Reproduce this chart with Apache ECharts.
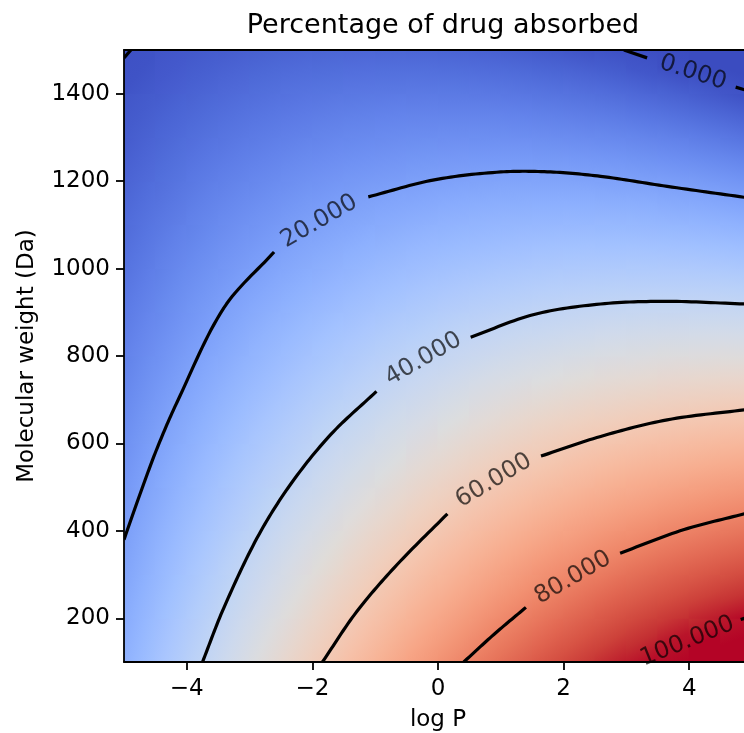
<!DOCTYPE html>
<html>
<head>
<meta charset="utf-8">
<title>Percentage of drug absorbed</title>
<script src="https://cdn.jsdelivr.net/npm/echarts@6/dist/echarts.min.js"></script>
<style>
  html, body { margin: 0; padding: 0; background: #fff; }
  #chart { width: 744px; height: 733px; }
</style>
</head>
<body>
<div id="chart"></div>
<script>
// grid nodes
const logP = [-5, -4.5, -4, -3.5, -3, -2.5, -2, -1.5, -1, -0.5, 0, 0.5, 1, 1.5, 2, 2.5, 3, 3.5, 4, 4.5, 5]
const mw = [100, 200, 300, 400, 500, 600, 700, 800, 900, 1000, 1100, 1200, 1300, 1400, 1500]

// % absorbed, one row per molecular weight
const mw100 = [25.4, 31.4, 37.2, 42.8, 48.2, 53.4, 58.5, 63.3, 67.9, 72.4, 76.6, 80.7, 84.6, 88.2, 91.7, 95.0, 98.1, 101.0, 103.7, 106.3, 108.6]
const mw200 = [23.6, 29.2, 34.7, 40.0, 45.1, 49.9, 54.6, 59.1, 63.5, 67.6, 71.5, 75.2, 78.8, 82.1, 85.3, 88.3, 91.1, 93.6, 96.0, 98.2, 100.2]
const mw300 = [21.7, 27.0, 32.2, 37.1, 41.9, 46.5, 50.8, 55.0, 59.0, 62.8, 66.4, 69.8, 73.0, 76.1, 78.9, 81.6, 84.0, 86.3, 88.3, 90.2, 91.9]
const mw400 = [19.9, 24.9, 29.7, 34.3, 38.7, 43.0, 47.0, 50.9, 54.6, 58.0, 61.3, 64.4, 67.3, 70.0, 72.5, 74.8, 77.0, 78.9, 80.6, 82.2, 83.5]
const mw500 = [18.0, 22.7, 27.2, 31.5, 35.6, 39.5, 43.2, 46.8, 50.1, 53.3, 56.2, 59.0, 61.5, 63.9, 66.1, 68.1, 69.9, 71.5, 72.9, 74.2, 75.2]
const mw600 = [16.2, 20.5, 24.7, 28.7, 32.5, 36.0, 39.4, 42.7, 45.7, 48.5, 51.1, 53.6, 55.8, 57.9, 59.7, 61.4, 62.9, 64.2, 65.3, 66.2, 66.9]
const mw700 = [14.3, 18.4, 22.2, 25.9, 29.3, 32.6, 35.7, 38.5, 41.2, 43.7, 46.0, 48.2, 50.1, 51.8, 53.3, 54.7, 55.8, 56.8, 57.6, 58.2, 58.5]
const mw800 = [12.5, 16.2, 19.7, 23.0, 26.2, 29.1, 31.9, 34.4, 36.8, 39.0, 41.0, 42.8, 44.4, 45.8, 47.0, 48.0, 48.8, 49.5, 49.9, 50.2, 50.2]
const mw900 = [10.7, 14.0, 17.2, 20.2, 23.1, 25.7, 28.1, 30.3, 32.4, 34.2, 35.9, 37.4, 38.6, 39.7, 40.6, 41.3, 41.8, 42.1, 42.2, 42.2, 41.9]
const mw1000 = [8.8, 11.9, 14.8, 17.4, 19.9, 22.2, 24.3, 26.2, 28.0, 29.5, 30.8, 32.0, 32.9, 33.7, 34.2, 34.6, 34.8, 34.8, 34.6, 34.2, 33.6]
const mw1100 = [7.0, 9.8, 12.3, 14.7, 16.8, 18.8, 20.6, 22.1, 23.5, 24.7, 25.8, 26.6, 27.2, 27.6, 27.9, 27.9, 27.8, 27.4, 26.9, 26.2, 25.3]
const mw1200 = [5.2, 7.6, 9.8, 11.9, 13.7, 15.3, 16.8, 18.1, 19.1, 20.0, 20.7, 21.2, 21.5, 21.6, 21.5, 21.2, 20.8, 20.1, 19.3, 18.2, 17.0]
const mw1300 = [3.4, 5.5, 7.4, 9.1, 10.6, 11.9, 13.0, 14.0, 14.7, 15.3, 15.6, 15.8, 15.8, 15.6, 15.2, 14.6, 13.8, 12.8, 11.6, 10.2, 8.7]
const mw1400 = [1.6, 3.4, 4.9, 6.3, 7.5, 8.5, 9.3, 9.9, 10.3, 10.6, 10.6, 10.4, 10.1, 9.5, 8.8, 7.9, 6.8, 5.5, 4.0, 2.3, 0.4]
const mw1500 = [-0.2, 1.2, 2.5, 3.5, 4.4, 5.1, 5.5, 5.8, 5.9, 5.8, 5.5, 5.1, 4.4, 3.5, 2.5, 1.2, -0.2, -1.9, -3.7, -5.7, -7.9]
const absorbed = [mw100, mw200, mw300, mw400, mw500, mw600, mw700, mw800, mw900, mw1000, mw1100, mw1200, mw1300, mw1400, mw1500]

// contour lines [logP, MW], split where the inline label sits
const levels = [0, 20, 40, 60, 80, 100]
const contour0 = [[[-5, 1482], [-4.89, 1500]], [[2.96, 1500], [3.33, 1482]], [[4.74, 1415], [4.88, 1409]]]
const contour20 = [
  [[-5, 380], [-4.73, 490], [-4.47, 590], [-4.15, 696], [-3.41, 910], [-2.61, 1038]],
  [[-1.11, 1164], [-0.06, 1203], [1.0, 1221], [1.79, 1221], [2.59, 1211], [3.65, 1188], [4.88, 1163]]
]
const contour40 = [
  [[-3.75, 100], [-3.41, 224], [-2.88, 384], [-2.35, 506], [-1.71, 620], [-0.98, 719]],
  [[0.52, 843], [1.53, 895], [2.59, 919], [3.65, 925], [4.88, 919]]
]
const contour60 = [
  [[-1.84, 100], [-1.29, 216], [-0.65, 323], [0.15, 439]],
  [[1.64, 571], [2.59, 616], [3.65, 654], [4.88, 677]]
]
const contour80 = [
  [[0.41, 100], [0.89, 163], [1.40, 225]],
  [[2.90, 349], [3.92, 403], [4.88, 439]]
]
const contour100 = [[[4.82, 197], [4.88, 200]]]
const contours = [contour0, contour20, contour40, contour60, contour80, contour100]

// where each level's label sits, and its tilt
const labelX = [4.06, -1.89, -0.23, 0.89, 2.15, 3.97]
const labelY = [1448, 1108, 793, 515, 293, 147]
const labelAngle = [-18, 30, 30, 31, 30, 22]

const xTicks = [-4, -2, 0, 2, 4]
const yTicks = [200, 400, 600, 800, 1000, 1200, 1400]

// colour scale: a percentage, so 0..100
const vmin = 0
const vmax = 100

// matplotlib coolwarm
const coolwarm = [
  [59, 76, 192], [68, 90, 204], [77, 104, 215], [87, 117, 225], [98, 130, 234], [108, 142, 241],
  [119, 154, 247], [130, 165, 251], [141, 176, 254], [152, 185, 255], [163, 194, 255], [174, 201, 253],
  [184, 208, 249], [194, 213, 244], [204, 217, 238], [213, 219, 230], [221, 221, 221], [229, 216, 209],
  [236, 211, 197], [241, 204, 185], [245, 196, 173], [247, 187, 160], [247, 177, 148], [247, 166, 135],
  [244, 154, 123], [241, 141, 111], [236, 127, 99], [229, 112, 88], [222, 96, 77], [213, 80, 66],
  [203, 62, 56], [192, 40, 47], [180, 4, 38]
]

function cmap(v) {
  let t = (v - vmin) / (vmax - vmin)
  t = Math.max(0, Math.min(1, t)) * (coolwarm.length - 1)
  const k = Math.min(Math.floor(t), coolwarm.length - 2)
  const f = t - k
  const a = coolwarm[k], b = coolwarm[k + 1]
  return 'rgb(' + [0, 1, 2].map(c => Math.round(a[c] + (b[c] - a[c]) * f)).join(',') + ')'
}

const cells = []
for (let j = 0; j < mw.length - 1; j++) {
  for (let i = 0; i < logP.length - 1; i++) cells.push([i, j])
}

// each cell shaded along its own gradient so the field looks continuous
function renderCell(params, api) {
  const i = api.value(0)
  const j = api.value(1)
  const p0 = api.coord([logP[i], mw[j]])
  const p1 = api.coord([logP[i + 1], mw[j + 1]])
  const v00 = absorbed[j][i], v10 = absorbed[j][i + 1]
  const v01 = absorbed[j + 1][i], v11 = absorbed[j + 1][i + 1]
  const w = p1[0] - p0[0]
  const h = p1[1] - p0[1]
  const gx = ((v10 - v00) + (v11 - v01)) / 2 / w
  const gy = ((v01 - v00) + (v11 - v10)) / 2 / h
  const cx = (p0[0] + p1[0]) / 2
  const cy = (p0[1] + p1[1]) / 2
  const vc = (v00 + v10 + v01 + v11) / 4
  const g2 = gx * gx + gy * gy
  let fill
  if (g2 < 1e-9) {
    fill = cmap(vc)
  } else {
    const R = 10
    const ux = gx / g2 * R, uy = gy / g2 * R
    const stops = [0, 0.25, 0.5, 0.75, 1].map(t => ({ offset: t, color: cmap(vc - R + 2 * R * t) }))
    fill = new echarts.graphic.LinearGradient(cx - ux, cy - uy, cx + ux, cy + uy, stops, true)
  }
  return {
    type: 'rect',
    shape: {
      x: Math.min(p0[0], p1[0]) - 0.5,
      y: Math.min(p0[1], p1[1]) - 0.5,
      width: Math.abs(w) + 1,
      height: Math.abs(h) + 1
    },
    style: { fill: fill }
  }
}

// contour segments: spline through the read points, in pixel space
const segments = []
contours.forEach(segs => segs.forEach(seg => segments.push(seg)))

function spline(pts) {
  if (pts.length < 3) return pts
  const dist = (a, b) => Math.hypot(b[0] - a[0], b[1] - a[1])
  const out = [pts[0]]
  for (let k = 0; k < pts.length - 1; k++) {
    const p1 = pts[k], p2 = pts[k + 1]
    const p0 = pts[k - 1] || [2 * p1[0] - p2[0], 2 * p1[1] - p2[1]]
    const p3 = pts[k + 2] || [2 * p2[0] - p1[0], 2 * p2[1] - p1[1]]
    const d1 = dist(p0, p1), d2 = dist(p1, p2), d3 = dist(p2, p3)
    const s1 = d2 / (d1 + d2), s2 = d2 / (d2 + d3)
    const c1 = [p1[0] + (p2[0] - p0[0]) * s1 / 3, p1[1] + (p2[1] - p0[1]) * s1 / 3]
    const c2 = [p2[0] - (p3[0] - p1[0]) * s2 / 3, p2[1] - (p3[1] - p1[1]) * s2 / 3]
    for (let n = 1; n <= 16; n++) {
      const t = n / 16, u = 1 - t
      out.push([
        u * u * u * p1[0] + 3 * u * u * t * c1[0] + 3 * u * t * t * c2[0] + t * t * t * p2[0],
        u * u * u * p1[1] + 3 * u * u * t * c1[1] + 3 * u * t * t * c2[1] + t * t * t * p2[1]
      ])
    }
  }
  return out
}

function renderContour(params, api) {
  const seg = segments[params.dataIndex]
  const pts = seg.map(p => api.coord(p))
  return {
    type: 'polyline',
    shape: { points: spline(pts) },
    style: { stroke: '#000', lineWidth: 3.2, fill: null, lineJoin: 'round' }
  }
}

const font = 'DejaVu Sans'
const axisLine = { show: true, onZero: false, lineStyle: { color: '#000', width: 1.8 } }
const minus = v => String(v).replace('-', '\u2212')

const chart = echarts.init(document.getElementById('chart'))
chart.setOption({
  animation: false,
  title: {
    text: 'Percentage of drug absorbed',
    left: 438,
    textAlign: 'center',
    top: 7,
    textStyle: { fontFamily: font, fontSize: 27, fontWeight: 'normal', color: '#000' }
  },
  grid: { left: 124, top: 50, right: -8, bottom: 71, outerBoundsMode: 'none' },
  xAxis: [{
    type: 'value',
    min: -5,
    max: 5,
    position: 'bottom',
    z: 10,
    axisLine: axisLine,
    axisTick: { show: true, length: 8, customValues: xTicks, lineStyle: { color: '#000', width: 1.8 } },
    axisLabel: { customValues: xTicks, formatter: minus, margin: 16, fontFamily: font, fontSize: 23, color: '#000' },
    splitLine: { show: false },
    name: 'log P',
    nameLocation: 'middle',
    nameGap: 47,
    nameTextStyle: { fontFamily: font, fontSize: 23, color: '#000' }
  }, {
    type: 'value',
    min: -5,
    max: 5,
    position: 'top',
    z: 10,
    axisLine: axisLine,
    axisTick: { show: false },
    axisLabel: { show: false },
    splitLine: { show: false }
  }],
  yAxis: [{
    type: 'value',
    min: 100,
    max: 1500,
    position: 'left',
    z: 10,
    axisLine: axisLine,
    axisTick: { show: true, length: 8, customValues: yTicks, lineStyle: { color: '#000', width: 1.8 } },
    axisLabel: { customValues: yTicks, formatter: v => String(v), margin: 14, fontFamily: font, fontSize: 23, color: '#000' },
    splitLine: { show: false },
    name: 'Molecular weight (Da)',
    nameLocation: 'middle',
    nameRotate: 90,
    nameGap: 85,
    nameTextStyle: { fontFamily: font, fontSize: 23, color: '#000' }
  }],
  series: [{
    type: 'custom',
    coordinateSystem: 'cartesian2d',
    data: cells,
    renderItem: renderCell,
    clip: true,
    silent: true,
    z: 1
  }, {
    type: 'custom',
    coordinateSystem: 'cartesian2d',
    data: segments.map(seg => seg[0]),
    renderItem: renderContour,
    clip: true,
    silent: true,
    z: 5
  }, {
    type: 'scatter',
    symbolSize: 1,
    silent: true,
    z: 6,
    itemStyle: { color: 'rgba(0,0,0,0)' },
    label: {
      show: true,
      position: 'inside',
      formatter: p => p.name,
      fontFamily: font,
      fontSize: 24,
      color: 'rgba(0,0,0,0.85)'
    },
    data: levels.map((lv, k) => ({
      name: lv.toFixed(3),
      value: [labelX[k], labelY[k]],
      label: { rotate: labelAngle[k] }
    }))
  }]
})
</script>
</body>
</html>
